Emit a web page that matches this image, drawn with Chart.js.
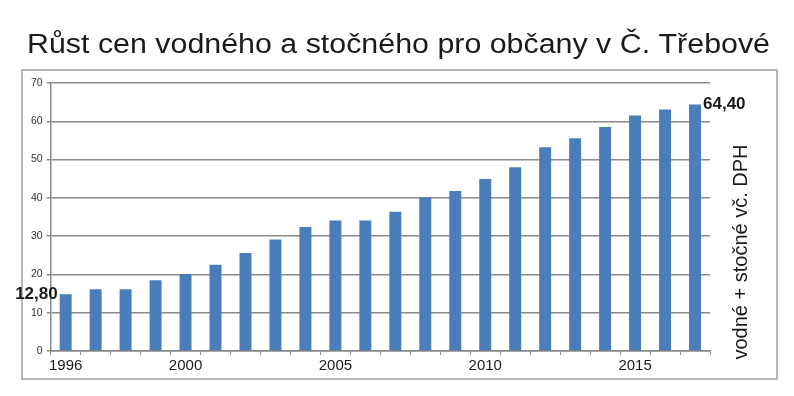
<!DOCTYPE html>
<html>
<head>
<meta charset="utf-8">
<script src="https://cdn.jsdelivr.net/npm/chart.js@4"></script>
<style>
  html, body { margin: 0; padding: 0; background: #fff; }
  #wrap { width: 794px; height: 396px; position: relative; }
</style>
</head>
<body>
<div id="wrap"><canvas id="cenyChart" width="794" height="396"></canvas></div>
<script>
const roky = ["1996", "1997", "1998", "1999", "2000", "2001", "2002", "2003", "2004", "2005", "2006",
    "2007", "2008", "2009", "2010", "2011", "2012", "2013", "2014", "2015", "2016", "2017"];
const ceny = [14.8, 16.1, 16.1, 18.5, 20.1, 22.5, 25.6, 29.1, 32.4, 34.1, 34.1,
    36.4, 40.1, 41.8, 44.9, 48.0, 53.2, 55.6, 58.5, 61.5, 63.1, 64.4];
const popisky = ["1996", "2000", "2005", "2010", "2015"]; // roky s popiskem na ose x
const hodnotyY = [0, 10, 20, 30, 40, 50, 60, 70];
const titulek = "Růst cen vodného a stočného pro občany v Č. Třebové";
const popisOsy = "vodné + stočné vč. DPH";
const prvniCena = "12,80";
const posledniCena = "64,40";

const font = "'Liberation Sans', Arial, sans-serif";

// ramecek, nadpis (roztazeny do sirky jako na predloze) a popisky navic
const doplnky = {
    id: "doplnky",
    beforeDraw(chart) {
        const ctx = chart.ctx;
        ctx.save();
        ctx.strokeStyle = "#a0a0a0";
        ctx.lineWidth = 1.5;
        ctx.strokeRect(22, 70, 755, 309);

        ctx.fillStyle = "#1a1a1a";
        ctx.font = "27px " + font;
        ctx.textAlign = "center";
        ctx.textBaseline = "alphabetic";
        const sirka = ctx.measureText(titulek).width;
        ctx.translate(398.5, 52.5);
        ctx.scale(743 / sirka, 1);
        ctx.fillText(titulek, 0, 0);
        ctx.restore();
    },
    afterDraw(chart) {
        const ctx = chart.ctx;
        const y = chart.scales.y;
        const meta = chart.getDatasetMeta(0);
        ctx.save();
        ctx.fillStyle = "#1a1a1a";
        ctx.font = "bold 17px " + font;
        ctx.textBaseline = "middle";

        const prvni = meta.data[0];
        ctx.textAlign = "right";
        ctx.fillText(prvniCena, prvni.x - prvni.width / 2 - 2, y.getPixelForValue(ceny[0]));

        const posledni = meta.data[meta.data.length - 1];
        ctx.textAlign = "left";
        ctx.fillText(posledniCena, posledni.x + posledni.width / 2 + 2, y.getPixelForValue(ceny[ceny.length - 1]));

        // svisly popisek vpravo
        ctx.font = "20px " + font;
        ctx.textAlign = "center";
        ctx.translate(741, 252);
        ctx.rotate(-Math.PI / 2);
        ctx.fillText(popisOsy, 0, 0);
        ctx.restore();
    }
};

const ctx = document.getElementById("cenyChart").getContext("2d");
const cenyChart = new Chart(ctx, {
    type: "bar",
    data: {
        labels: roky,
        datasets: [{
            label: "vodné + stočné",
            data: ceny,
            backgroundColor: "#4a7ebb",
            borderWidth: 0,
            categoryPercentage: 1,
            barPercentage: 0.4
        }]
    },
    options: {
        responsive: false,
        animation: false,
        layout: {
            padding: { left: 27, right: 84, top: 83, bottom: 19 }
        },
        plugins: {
            legend: { display: false },
            tooltip: { enabled: false },
            title: { display: false }
        },
        scales: {
            x: {
                grid: {
                    drawOnChartArea: false,
                    drawTicks: true,
                    tickLength: 4,
                    color: "#888"
                },
                border: { color: "#888", width: 1.5 },
                ticks: {
                    autoSkip: false,
                    maxRotation: 0,
                    color: "#1a1a1a",
                    padding: 2,
                    font: { family: font, size: 15 },
                    callback: function (value) {
                        const rok = this.getLabelForValue(value);
                        return popisky.includes(rok) ? rok : "";
                    }
                }
            },
            y: {
                min: 0,
                max: 70,
                afterBuildTicks: (axis) => {
                    axis.ticks = hodnotyY.map((v) => ({ value: v }));
                },
                grid: {
                    color: "#8a8a8a",
                    lineWidth: 1.5,
                    tickLength: 4
                },
                border: { color: "#888", width: 1.5 },
                ticks: {
                    color: "#333",
                    padding: 4,
                    font: { family: font, size: 10.5 }
                }
            }
        }
    },
    plugins: [doplnky]
});
</script>
</body>
</html>
